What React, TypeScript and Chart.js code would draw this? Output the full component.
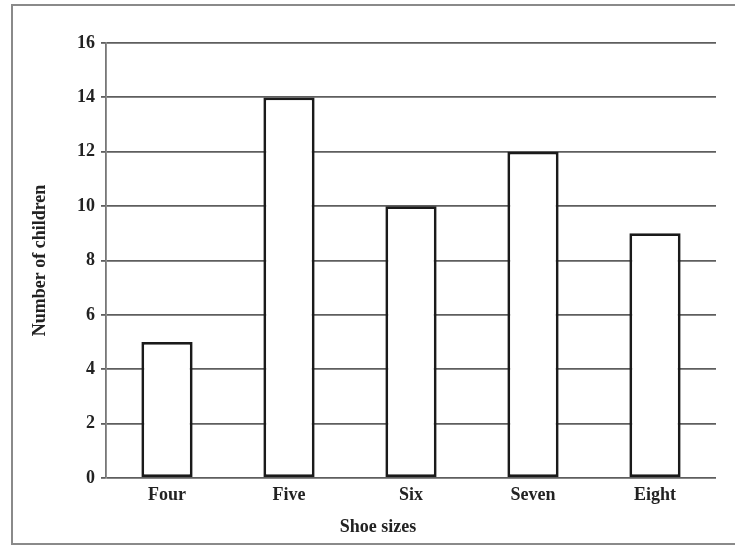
import React, { useEffect, useRef } from "react";
import { Chart, registerables } from "chart.js";

Chart.register(...registerables);

const categories = ["Four", "Five", "Six", "Seven", "Eight"];
const childCounts = [5, 14, 10, 12, 9];
const yTitle = "Number of children";
const xTitle = "Shoe sizes";
const yMin = 0;
const yMax = 16;
const yStep = 2;

const FONT = "'Liberation Serif', 'Times New Roman', serif";

const xTitlePlugin = {
  id: "xTitlePlugin",
  afterDraw(chart: any) {
    const { ctx, chartArea } = chart;
    ctx.save();
    ctx.font = `bold 18px ${FONT}`;
    ctx.fillStyle = "#222";
    ctx.textAlign = "center";
    ctx.textBaseline = "middle";
    const x = chartArea.left + (chartArea.right - chartArea.left) * 0.446;
    ctx.fillText(xTitle, x, 527);
    ctx.restore();
  },
};

export default function App() {
  const ref = useRef<HTMLCanvasElement>(null);
  useEffect(() => {
    if (!ref.current) return;
    const chart = new Chart(ref.current, {
      type: "bar",
      data: {
        labels: categories,
        datasets: [
          {
            data: childCounts,
            backgroundColor: "#ffffff",
            borderColor: "#1a1a1a",
            borderWidth: 2.8,
            borderSkipped: false,
            categoryPercentage: 1,
            barPercentage: 0.42,
          },
        ],
      },
      options: {
        animation: false,
        responsive: false,
        maintainAspectRatio: false,
        layout: { padding: { left: 30, top: 43, right: 19, bottom: 0 } },
        plugins: {
          legend: { display: false },
          tooltip: { enabled: false },
          title: { display: false },
        },
        scales: {
          x: {
            grid: { display: false, drawTicks: false },
            border: { display: false },
            ticks: {
              padding: 7,
              color: "#222",
              font: { family: FONT, size: 18, weight: "bold" },
            },
            afterFit(scale: any) {
              scale.height = 69;
            },
          },
          y: {
            min: yMin,
            max: yMax,
            grid: {
              color: "#5e5e5e",
              lineWidth: 1.8,
              tickLength: 5,
            },
            border: { display: true, color: "#777777", width: 1.8 },
            ticks: {
              stepSize: yStep,
              padding: 6,
              color: "#222",
              font: { family: FONT, size: 18, weight: "bold" },
            },
            title: {
              display: true,
              text: yTitle,
              color: "#222",
              padding: { top: 0, bottom: 0 },
              font: { family: FONT, size: 18, weight: "bold" },
            },
            afterFit(scale: any) {
              scale.width = 76;
            },
          },
        },
      },
      plugins: [xTitlePlugin],
    });
    return () => chart.destroy();
  }, []);

  return (
    <div style={{ position: "absolute", left: 0, top: 0, width: 735, height: 547, background: "#fff" }}>
      <canvas ref={ref} width={735} height={547} style={{ position: "absolute", left: 0, top: 0 }} />
      <div
        style={{
          position: "absolute",
          left: 11,
          top: 4,
          width: 724,
          height: 541,
          border: "2px solid #8a8a8a",
          borderRight: "none",
          boxSizing: "border-box",
          pointerEvents: "none",
        }}
      />
    </div>
  );
}
